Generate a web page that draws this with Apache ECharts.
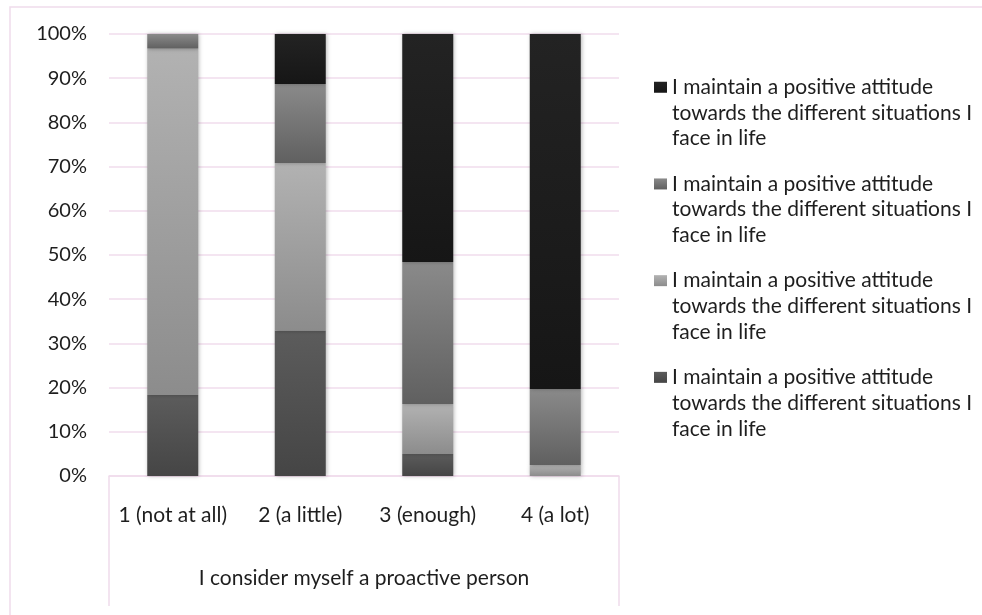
<!DOCTYPE html>
<html>
<head>
<meta charset="utf-8">
<script src="https://cdn.jsdelivr.net/npm/echarts@6/dist/echarts.min.js"></script>
<style>
  html, body { margin: 0; padding: 0; background: #ffffff; }
  #chart { width: 982px; height: 615px; }
</style>
</head>
<body>
<div id="chart"></div>
<script>
// Response categories on the horizontal axis
const categories = ['1 (not at all)', '2 (a little)', '3 (enough)', '4 (a lot)'];
const axisTitle = 'I consider myself a proactive person';

// Share of answers (%) per response level, stacked bottom to top
const levelA = [18.3, 32.9, 5.0, 0];     // dark grey (bottom)
const levelB = [78.4, 37.9, 11.3, 2.5];  // light grey
const levelC = [3.3, 17.9, 32.1, 17.2];  // mid grey
const levelD = [0, 11.3, 51.6, 80.3];    // black (top)

const legendLabel = 'I maintain a positive attitude\ntowards the different situations I\nface in life';

const FONT = 'Lato';
const TEXT = '#1e1e1e';
const PINK = '#f0dcec';
const LINE_H = 25.7;

function grad(top, bottom) {
  return new echarts.graphic.LinearGradient(0, 0, 0, 1, [
    { offset: 0, color: top },
    { offset: 1, color: bottom }
  ]);
}

const barShadow = { shadowBlur: 4, shadowColor: 'rgba(0,0,0,0.28)', shadowOffsetX: 1 };

function series(id, values, top, bottom) {
  return {
    name: id,
    type: 'bar',
    stack: 'total',
    barWidth: '40%',
    data: values,
    itemStyle: Object.assign({ color: grad(top, bottom) }, barShadow),
    emphasis: { disabled: true }
  };
}

const chart = echarts.init(document.getElementById('chart'), null, { renderer: 'canvas' });

chart.setOption({
  animation: false,
  backgroundColor: '#ffffff',
  textStyle: { fontFamily: FONT, color: TEXT },
  grid: { left: 109, right: 363, top: 34, bottom: 139, containLabel: false },
  graphic: [{
    type: 'rect',
    shape: { x: 10, y: 7, width: 1000, height: 700 },
    style: { fill: 'none', stroke: PINK, lineWidth: 1.5 },
    silent: true,
    z: -1
  }],
  legend: {
    orient: 'vertical',
    left: 654,
    top: 23,
    padding: 0,
    icon: 'rect',
    itemWidth: 13,
    itemHeight: 11,
    itemGap: 96.7 - 5 * LINE_H,
    data: ['levelD', 'levelC', 'levelB', 'levelA'],
    // two leading blank lines keep the marker level with the first text line
    formatter: function () { return '\n\n' + legendLabel; },
    textStyle: {
      fontFamily: FONT,
      fontSize: 21,
      color: TEXT,
      lineHeight: LINE_H
    },
    selectedMode: false
  },
  xAxis: [{
    type: 'category',
    data: categories,
    axisLine: { show: true, lineStyle: { color: PINK, width: 1.5 } },
    axisTick: { show: false },
    axisLabel: { margin: 29, fontSize: 21, lineHeight: 20, color: TEXT, fontFamily: FONT, interval: 0 }
  }, {
    type: 'category',
    position: 'bottom',
    data: [axisTitle],
    axisLine: { show: false },
    axisTick: { show: true, length: 130, lineStyle: { color: PINK, width: 1.5 } },
    axisLabel: { margin: 92, fontSize: 21, lineHeight: 20, color: TEXT, fontFamily: FONT }
  }],
  yAxis: {
    type: 'value',
    min: 0,
    max: 100,
    interval: 10,
    axisLine: { show: false },
    axisTick: { show: false },
    splitLine: { show: true, lineStyle: { color: PINK, width: 1.5 } },
    axisLabel: { formatter: '{value}%', margin: 22, fontSize: 20, color: TEXT, fontFamily: FONT }
  },
  series: [
    series('levelA', levelA, '#5c5c5c', '#454545'),
    series('levelB', levelB, '#b2b2b2', '#8c8c8c'),
    series('levelC', levelC, '#8a8a8a', '#606060'),
    series('levelD', levelD, '#232323', '#161616')
  ]
});
</script>
</body>
</html>
